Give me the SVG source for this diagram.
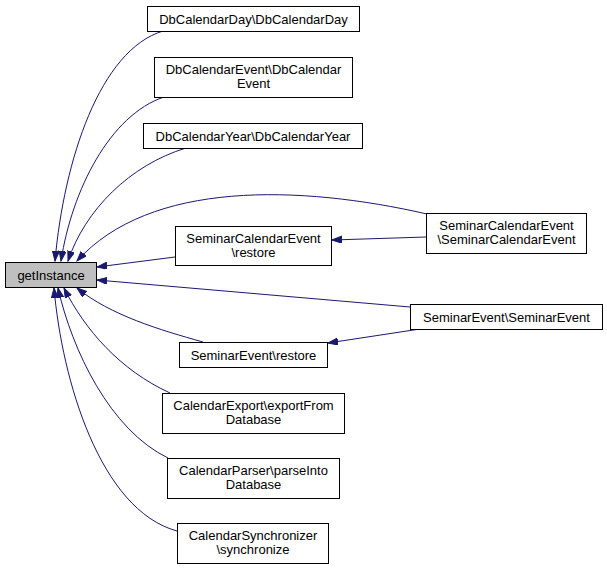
<svg xmlns="http://www.w3.org/2000/svg" width="607" height="570" viewBox="0 0 607 570">
<defs>
<marker id="arr" markerUnits="userSpaceOnUse" markerWidth="11" markerHeight="8" refX="10" refY="3.5" orient="auto">
<path d="M0,0 L10,3.5 L0,7 z" fill="#191970" stroke="#191970" stroke-width="1"/>
</marker>
</defs>
<style>
.n rect{fill:#ffffff;stroke:#000000;stroke-width:1}
.n.hl rect{fill:#bfbfbf}
.n text{font-family:"Liberation Sans",Arial,Helvetica,sans-serif;font-size:13px;fill:#000000;text-anchor:middle}
.e path{fill:none;stroke:#191970;stroke-width:1;marker-end:url(#arr)}
</style>
<rect width="607" height="570" fill="#ffffff"/>
<g id="edges" class="e">
<path d="M163,31 C100,50 64,160 55,261"/>
<path d="M164,97 C110,115 72,190 61,261"/>
<path d="M186,148 C130,165 85,210 68,261"/>
<path d="M427,214 C300,185 150,180 77,261"/>
<path d="M175,257 L97,267"/>
<path d="M426,237 L332,240"/>
<path d="M410,307 L97,280"/>
<path d="M420,329 L328,343"/>
<path d="M203,342 C160,330 110,315 77,288"/>
<path d="M170,393 C120,370 85,330 64,288"/>
<path d="M168,458 C110,430 72,350 58,288"/>
<path d="M177,531 C100,510 62,380 54,288"/>
</g>
<g id="getInstance" class="n hl"><rect x="5.5" y="262.5" width="91" height="25"/><text x="51" y="279.5">getInstance</text></g>
<g id="DbCalendarDay" class="n"><rect x="147.5" y="6.5" width="212" height="25"/><text x="253.5" y="23.5">DbCalendarDay\DbCalendarDay</text></g>
<g id="DbCalendarEvent" class="n"><rect x="154.5" y="57.5" width="198" height="40"/><text x="253.5" y="73.5">DbCalendarEvent\DbCalendar</text><text x="253.5" y="87.5">Event</text></g>
<g id="DbCalendarYear" class="n"><rect x="143.5" y="123.5" width="219" height="25"/><text x="253" y="140.5">DbCalendarYear\DbCalendarYear</text></g>
<g id="SeminarCalendarEventRestore" class="n"><rect x="175.5" y="226.5" width="156" height="39"/><text x="253.5" y="242.5">SeminarCalendarEvent</text><text x="253.5" y="256.5">\restore</text></g>
<g id="SeminarEventRestore" class="n"><rect x="179.5" y="342.5" width="148" height="25"/><text x="253.5" y="359.5">SeminarEvent\restore</text></g>
<g id="CalendarExport" class="n"><rect x="162.5" y="393.5" width="182" height="40"/><text x="253.5" y="409.5">CalendarExport\exportFrom</text><text x="253.5" y="423.5">Database</text></g>
<g id="CalendarParser" class="n"><rect x="167.5" y="458.5" width="172" height="40"/><text x="253.5" y="474.5">CalendarParser\parseInto</text><text x="253.5" y="488.5">Database</text></g>
<g id="CalendarSynchronizer" class="n"><rect x="177.5" y="523.5" width="151" height="40"/><text x="253" y="539.5">CalendarSynchronizer</text><text x="253" y="553.5">\synchronize</text></g>
<g id="SeminarCalendarEventCtor" class="n"><rect x="426.5" y="213.5" width="160" height="40"/><text x="506.5" y="229.5">SeminarCalendarEvent</text><text x="506.5" y="243.5">\SeminarCalendarEvent</text></g>
<g id="SeminarEventCtor" class="n"><rect x="410.5" y="304.5" width="192" height="25"/><text x="506.5" y="321.5">SeminarEvent\SeminarEvent</text></g>
</svg>
